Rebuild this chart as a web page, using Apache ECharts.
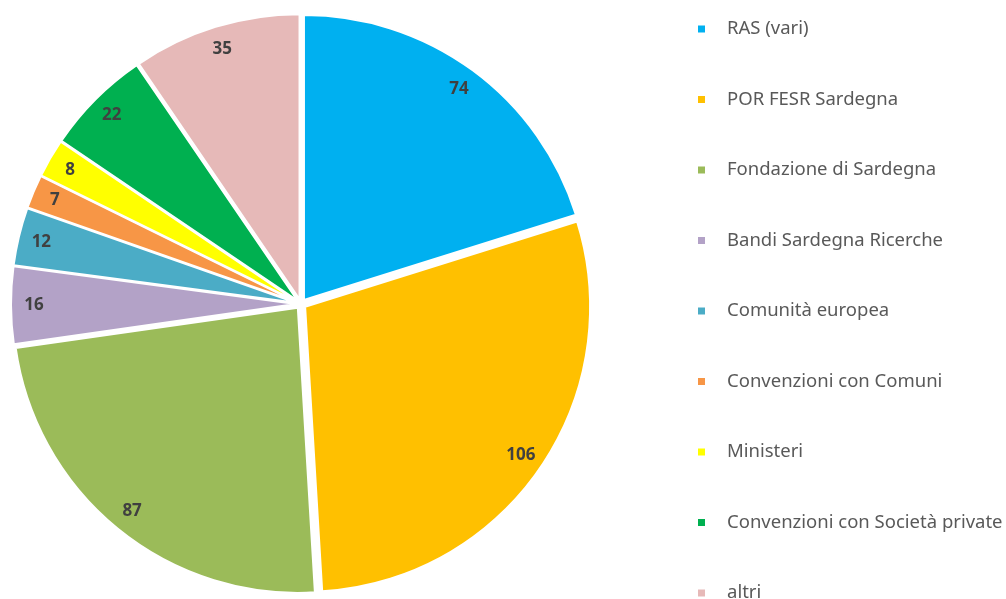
<!DOCTYPE html>
<html>
<head>
<meta charset="utf-8">
<script src="https://cdn.jsdelivr.net/npm/echarts@6/dist/echarts.min.js"></script>
<style>
  html, body { margin: 0; padding: 0; background: #fff; }
  #chart { width: 1006px; height: 599px; }
</style>
</head>
<body>
<div id="chart"></div>
<script>
// fonti di finanziamento
var names = ['RAS (vari)', 'POR FESR Sardegna', 'Fondazione di Sardegna', 'Bandi Sardegna Ricerche',
  'Comunità europea', 'Convenzioni con Comuni', 'Ministeri', 'Convenzioni con Società private', 'altri'];
var values = [74, 106, 87, 16, 12, 7, 8, 22, 35];
var colors = ['#00B0F0', '#FFC000', '#9BBB59', '#B3A2C7', '#4BACC6', '#F79646', '#FFFF00', '#00B050', '#E6B9B8'];

var center = [301, 304];
var offset = 5;

var myChart = echarts.init(document.getElementById('chart'));

var sliceData = [], labelData = [];
for (var i = 0; i < names.length; i++) {
  sliceData.push({ name: names[i], value: values[i], selected: true, itemStyle: { color: colors[i] } });
  labelData.push({ name: names[i], value: values[i], selected: true });
}

var option = {
  animation: false,
  color: colors,
  legend: {
    orient: 'vertical',
    left: 696,
    top: 19,
    height: 800,
    padding: 0,
    icon: 'rect',
    itemWidth: 9,
    itemHeight: 9,
    itemGap: 50.5,
    selectedMode: false,
    data: names,
    textStyle: {
      fontFamily: 'Noto Sans',
      fontSize: 18.5,
      color: '#595959',
      lineHeight: 20,
      padding: [0, 0, 0, 16]
    }
  },
  series: [
    {
      type: 'pie',
      center: center,
      radius: [0, 285],
      startAngle: 90,
      selectedMode: 'multiple',
      selectedOffset: offset,
      silent: true,
      itemStyle: { borderColor: '#fff', borderWidth: 2 },
      label: { show: false },
      labelLine: { show: false },
      emphasis: { disabled: true },
      data: sliceData
    },
    {
      // serie trasparente solo per le etichette vicino al bordo
      type: 'pie',
      center: center,
      radius: [233, 285],
      startAngle: 90,
      selectedMode: 'multiple',
      selectedOffset: offset,
      silent: true,
      legendHoverLink: false,
      itemStyle: { color: 'rgba(0,0,0,0)', borderWidth: 0 },
      label: {
        show: true,
        position: 'inside',
        formatter: '{c}',
        fontFamily: 'Noto Sans',
        fontWeight: 'bold',
        fontSize: 17,
        color: '#404040'
      },
      labelLine: { show: false },
      emphasis: { disabled: true },
      data: labelData
    }
  ]
};

myChart.setOption(option);
</script>
</body>
</html>
